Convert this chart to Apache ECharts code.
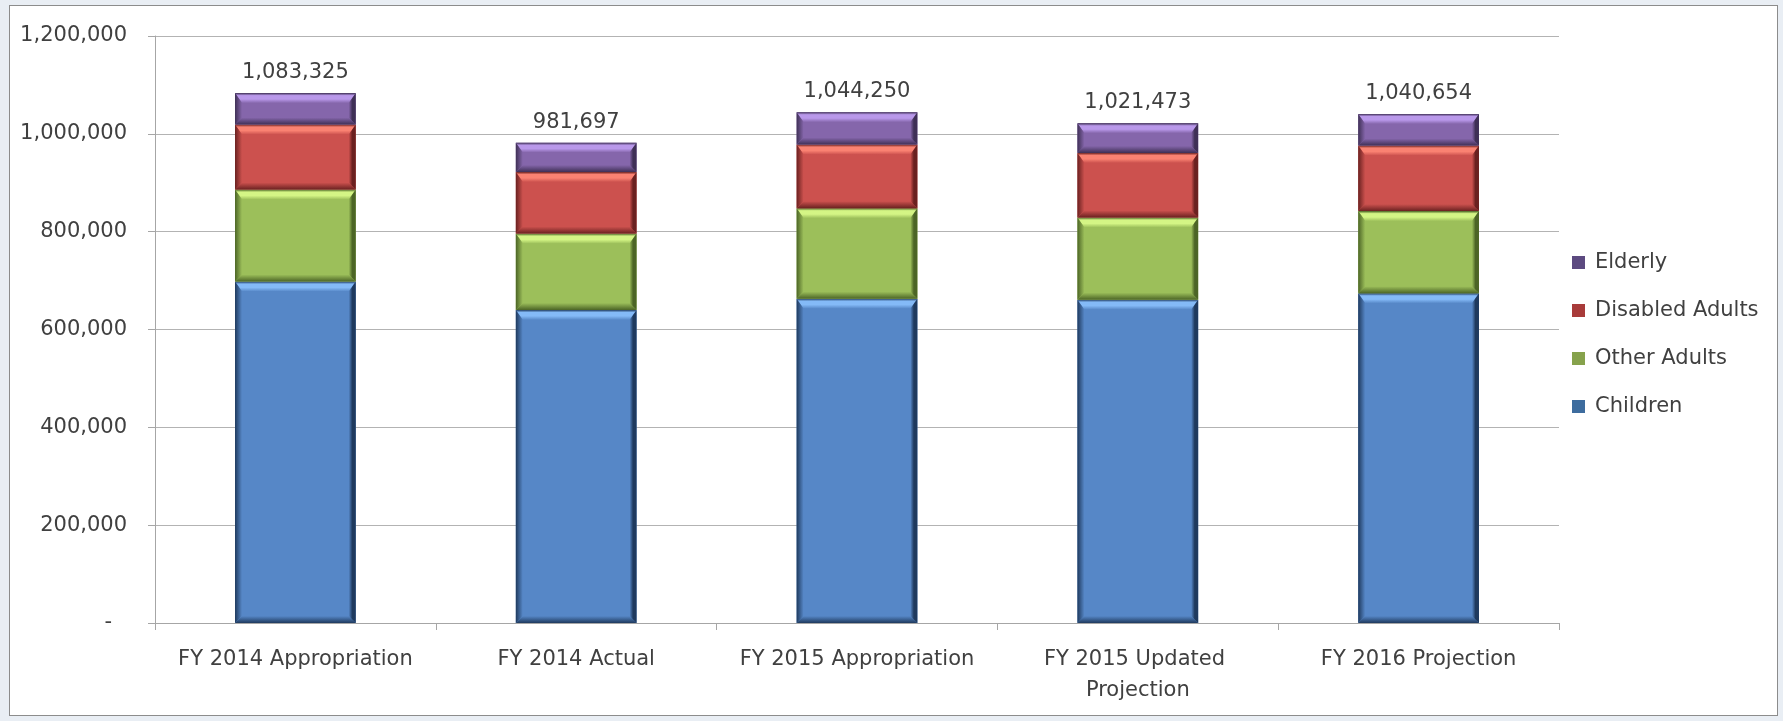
<!DOCTYPE html>
<html>
<head>
<meta charset="utf-8">
<script src="https://cdn.jsdelivr.net/npm/echarts@6/dist/echarts.min.js"></script>
<style>
  html, body { margin: 0; padding: 0; background: #e9eef4; }
  #frame { position: absolute; left: 9px; top: 5px; width: 1767px; height: 709px;
           background: #ffffff; border: 1px solid #8c8c8c; }
  #chart { position: absolute; left: 0; top: 0; width: 1783px; height: 721px; }
</style>
</head>
<body>
<div id="frame"></div>
<div id="chart"></div>
<script>
// Enrollment by eligibility group, stacked per budget scenario
const categories = ['FY 2014 Appropriation', 'FY 2014 Actual', 'FY 2015 Appropriation',
                    'FY 2015 Updated Projection', 'FY 2016 Projection'];
const children       = [698000, 640000, 663000, 661000, 674000];
const otherAdults    = [188000, 156000, 185000, 168000, 168000];
const disabledAdults = [133000, 126000, 130000, 132000, 134000];
const elderly        = [64325, 59697, 66250, 60473, 64654];
const yTickValues    = [0, 200000, 400000, 600000, 800000, 1000000, 1200000];

const FONT = 'DejaVu Sans';
const TEXT = '#404040';
const BAR_RATIO = 0.43;

// stack order bottom -> top, with face / highlight / shadow tones for the bevel
const layers = [
  { name: 'Children',        values: children,       face: '#5687c7', light: '#84baf7', dark: '#1f3a5e', key: '#3d6c9e' },
  { name: 'Other Adults',    values: otherAdults,    face: '#9cbf5a', light: '#d4f585', dark: '#4c6526', key: '#86a24c' },
  { name: 'Disabled Adults', values: disabledAdults, face: '#cc514e', light: '#fa8272', dark: '#6a2120', key: '#a83b3a' },
  { name: 'Elderly',         values: elderly,        face: '#8566ab', light: '#b998ea', dark: '#3f3056', key: '#5c4a80' }
];

const fmt = v => v.toLocaleString('en-US');

function makeRender(layer, isTop) {
  return function (params, api) {
    const i = api.value(0);
    const lo = api.coord([i, api.value(1)]);
    const hi = api.coord([i, api.value(2)]);
    const w = api.size([1, 0])[0] * BAR_RATIO;
    const x0 = lo[0] - w / 2, x1 = lo[0] + w / 2;
    const yt = hi[1], yb = lo[1];
    const h = yb - yt;
    const s = 7, t = Math.min(10, h / 3), b = Math.min(7, h / 4);
    const kids = [
      { type: 'rect', shape: { x: x0, y: yt, width: w, height: h },
        style: { fill: layer.face } },
      { type: 'polygon', shape: { points: [[x0, yt], [x1, yt], [x1 - s, yt + t], [x0 + s, yt + t]] },
        style: { fill: new echarts.graphic.LinearGradient(0, 0, 0, 1, [
          { offset: 0, color: layer.dark }, { offset: 0.25, color: layer.light },
          { offset: 0.6, color: layer.light }, { offset: 1, color: layer.face }]) } },
      { type: 'polygon', shape: { points: [[x0, yb], [x1, yb], [x1 - s, yb - b], [x0 + s, yb - b]] },
        style: { fill: new echarts.graphic.LinearGradient(0, 0, 0, 1, [
          { offset: 0, color: layer.face }, { offset: 1, color: layer.dark }]) } },
      { type: 'polygon', shape: { points: [[x0, yt], [x0 + s, yt + t], [x0 + s, yb - b], [x0, yb]] },
        style: { fill: new echarts.graphic.LinearGradient(0, 0, 1, 0, [
          { offset: 0, color: layer.dark }, { offset: 1, color: layer.face }]) } },
      { type: 'polygon', shape: { points: [[x1, yt], [x1 - s, yt + t], [x1 - s, yb - b], [x1, yb]] },
        style: { fill: new echarts.graphic.LinearGradient(1, 0, 0, 0, [
          { offset: 0, color: layer.dark }, { offset: 0.5, color: layer.dark }, { offset: 1, color: layer.face }]) } }
    ];
    if (isTop) {
      kids.push({ type: 'text', style: {
        text: fmt(api.value(2)), x: lo[0], y: yt - 10, align: 'center', verticalAlign: 'bottom',
        fill: TEXT, font: '21px "' + FONT + '"' } });
    }
    return { type: 'group', children: kids };
  };
}

// stack each layer on the running sum of the ones below it
let running = categories.map(() => 0);
const series = layers.map((layer, k) => {
  const data = layer.values.map((v, i) => {
    const base = running[i];
    running[i] = base + v;
    return [i, base, base + v];
  });
  return {
    name: layer.name,
    type: 'custom',
    renderItem: makeRender(layer, k === layers.length - 1),
    encode: { x: 0, y: [1, 2] },
    itemStyle: { color: layer.key },
    data: data
  };
});

const chart = echarts.init(document.getElementById('chart'), null, { renderer: 'canvas' });
chart.setOption({
  animation: false,
  textStyle: { fontFamily: FONT },
  grid: { left: 155, right: 224, top: 36, bottom: 98 },
  legend: {
    orient: 'vertical',
    left: 1567,
    top: 247,
    itemWidth: 13,
    itemHeight: 13,
    itemGap: 27,
    icon: 'rect',
    data: ['Elderly', 'Disabled Adults', 'Other Adults', 'Children'],
    textStyle: { fontFamily: FONT, fontSize: 21, color: TEXT, padding: [0, 0, 0, 5] }
  },
  xAxis: {
    type: 'category',
    data: categories,
    axisLine: { lineStyle: { color: '#a6a6a6', width: 1 } },
    axisTick: { show: true, length: 7, lineStyle: { color: '#a6a6a6' } },
    axisLabel: {
      color: TEXT, fontFamily: FONT, fontSize: 21, margin: 21, lineHeight: 31,
      width: 262, overflow: 'break', interval: 0
    }
  },
  yAxis: {
    type: 'value',
    min: yTickValues[0],
    max: yTickValues[yTickValues.length - 1],
    interval: yTickValues[1] - yTickValues[0],
    axisLine: { show: true, lineStyle: { color: '#a6a6a6', width: 1 } },
    axisTick: { show: true, length: 7, lineStyle: { color: '#a6a6a6' } },
    splitLine: { lineStyle: { color: '#b3b3b3', width: 1 } },
    axisLabel: {
      color: TEXT, fontFamily: FONT, fontSize: 21, margin: 28,
      formatter: v => v === 0 ? '{d|-}' : fmt(v),
      rich: { d: { color: TEXT, fontFamily: FONT, fontSize: 21, padding: [0, 15, 0, 0] } }
    }
  },
  series: series
});
</script>
</body>
</html>
